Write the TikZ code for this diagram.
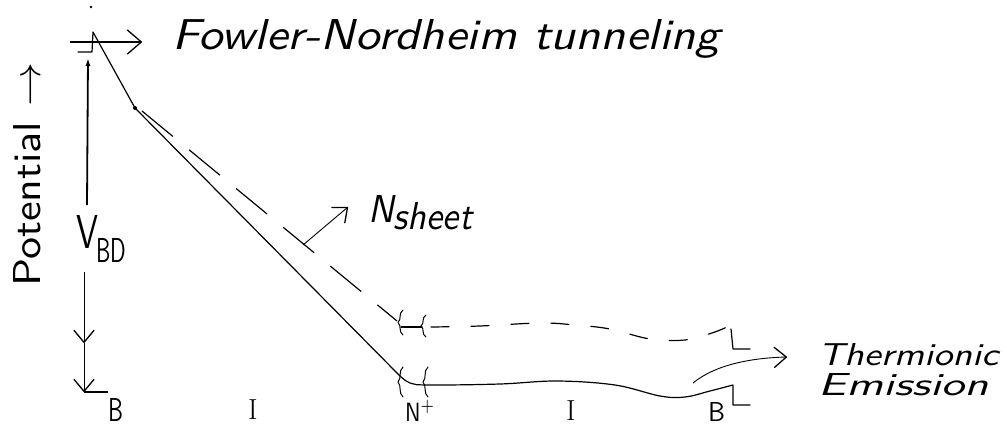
\documentclass[tikz,border=0pt]{standalone}
\usepackage{graphicx}
\usetikzlibrary{arrows.meta,positioning}
\tikzset{
  solid_line/.style={line width=1.2pt,line cap=round,line join=round},
  dash_diag/.style={line width=1.2pt,dash pattern=on 40pt off 21pt},
  dash_flat/.style={line width=1.2pt,line cap=round,dash pattern=on 18pt off 22pt},
  barb/.style={-{Straight Barb[length=14pt,width=24pt,line width=1.3pt,round]},line width=1.1pt},
  barb_small/.style={-{Straight Barb[length=12pt,width=20pt,line width=1.3pt,round]},line width=0.9pt},
  hand/.style={inner sep=0pt,anchor=base west,font=\sffamily\itshape},
  hand_up/.style={inner sep=0pt,anchor=base west,font=\sffamily\upshape},
}
\newcommand{\hw}[3]{\resizebox{#1}{#2}{#3}}

\begin{document}
\begin{tikzpicture}[x=1pt,y=-1pt]
    \useasboundingbox (0,0) rectangle (1007,428);

    \coordinate (lstep) at (78,52);
    \coordinate (lcorner) at (92,52);
    \coordinate (peak) at (93,32);
    \coordinate (kink) at (135,108);
    \coordinate (nplus) at (398,374);
    \coordinate (rtop) at (733,385);
    \coordinate (rbot) at (733,405);
    \coordinate (rend) at (750,405);
    \coordinate (dstart) at (142,111);
    \coordinate (dnplus) at (397,321);

    \draw[solid_line] (lstep) -- (lcorner) -- (peak) -- (kink) -- (nplus)
      -- plot[smooth,tension=0.6] coordinates {(398,374) (410,383) (430,385) (500,384) (557,381) (615,385) (660,396) (685,397) (710,391) (733,385)}
      -- (rbot) -- (rend);
    \fill (kink) circle (2pt);
    \fill (91,7) circle (1.3pt);

    \draw[dash_diag] (dstart) -- (dnplus);
    \draw[solid_line] (401,327) -- (422,327);
    \draw[dash_flat] plot[smooth,tension=0.6] coordinates {(431,327) (480,326) (540,323) (575,325) (610,329) (650,339) (685,340) (712,333) (727,327)};
    \draw[solid_line] (731,329) -- (733,349) -- (750,349);

    \foreach \bx/\bt/\bb in {400/367/397, 425/367/397, 400/310/335, 423/315/337} {
      \pgfmathsetmacro\bm{(\bt+\bb)/2}
      \pgfmathsetmacro\bh{\bb-\bt}
      \draw[solid_line,line width=1pt] ({\bx+3},\bt) .. controls ({\bx-2},{\bt+0.15*\bh}) and ({\bx+2},{\bm-0.15*\bh}) .. ({\bx-2},\bm)
        .. controls ({\bx+2},{\bm+0.15*\bh}) and ({\bx-2},{\bb-0.15*\bh}) .. ({\bx+3},\bb);
    }

    \coordinate (fn_from) at (70,42);
    \coordinate (fn_to) at (142,42);
    \draw[barb] (fn_from) -- (fn_to);

    \coordinate (vbd_low) at (87,205);
    \coordinate (vbd_high) at (88,58);
    \draw[-{Latex[length=8pt,width=5pt]},line width=1.8pt] (vbd_low) -- (vbd_high);
    \coordinate (vdn_from) at (84,272);
    \coordinate (vdn_mid) at (84,343);
    \coordinate (vdn_to) at (84,392);
    \coordinate (vdn_end) at (108,392);
    \draw[barb_small] (vdn_from) -- (vdn_mid);
    \draw[barb_small] (vdn_mid) -- (vdn_to);
    \draw[line width=1.1pt] (vdn_to) -- (vdn_end);

    \coordinate (ns_from) at (303,245);
    \coordinate (ns_to) at (348,207);
    \draw[barb_small] (ns_from) -- (ns_to);

    \coordinate (te_from) at (693,383);
    \coordinate (te_to) at (787,357);
    \draw[barb_small] (te_from) .. controls (715,365) and (750,358) .. (te_to);

    \node[hand] (fowler) at (172,50) {\hw{548pt}{30pt}{Fowler-Nordheim tunneling}};
    \node[hand] (nsheet) at (368,222) {\hw{104pt}{27pt}{N\raisebox{-0.2em}{sheet}}};
    \node[hand] (thermionic) at (818,365) {\hw{180pt}{22pt}{Thermionic}};
    \node[hand] (emission) at (818,395) {\hw{170pt}{22pt}{Emission}};
    \node[hand_up] (vbd) at (76,248) {\hw{22pt}{33pt}{V}\kern-2pt\raisebox{-14pt}{\hw{30pt}{24pt}{BD}}};
    \node[hand_up,rotate=90] (potential) at (40,287) {\hw{224pt}{27pt}{Potential $\rightarrow$}};

    \node[hand_up] (b_left) at (108,421) {\hw{15pt}{23pt}{B}};
    \node[hand_up,font=\rmfamily\fontsize{29}{29}\selectfont] (i_left) at (248,419) {I};
    \node[hand_up] (n_plus) at (405,421) {\hw{30pt}{21pt}{N$^+$}};
    \node[hand_up,font=\rmfamily\fontsize{29}{29}\selectfont] (i_right) at (566,420) {I};
    \node[hand_up] (b_right) at (708,421) {\hw{17pt}{19pt}{B}};
\end{tikzpicture}
\end{document}
